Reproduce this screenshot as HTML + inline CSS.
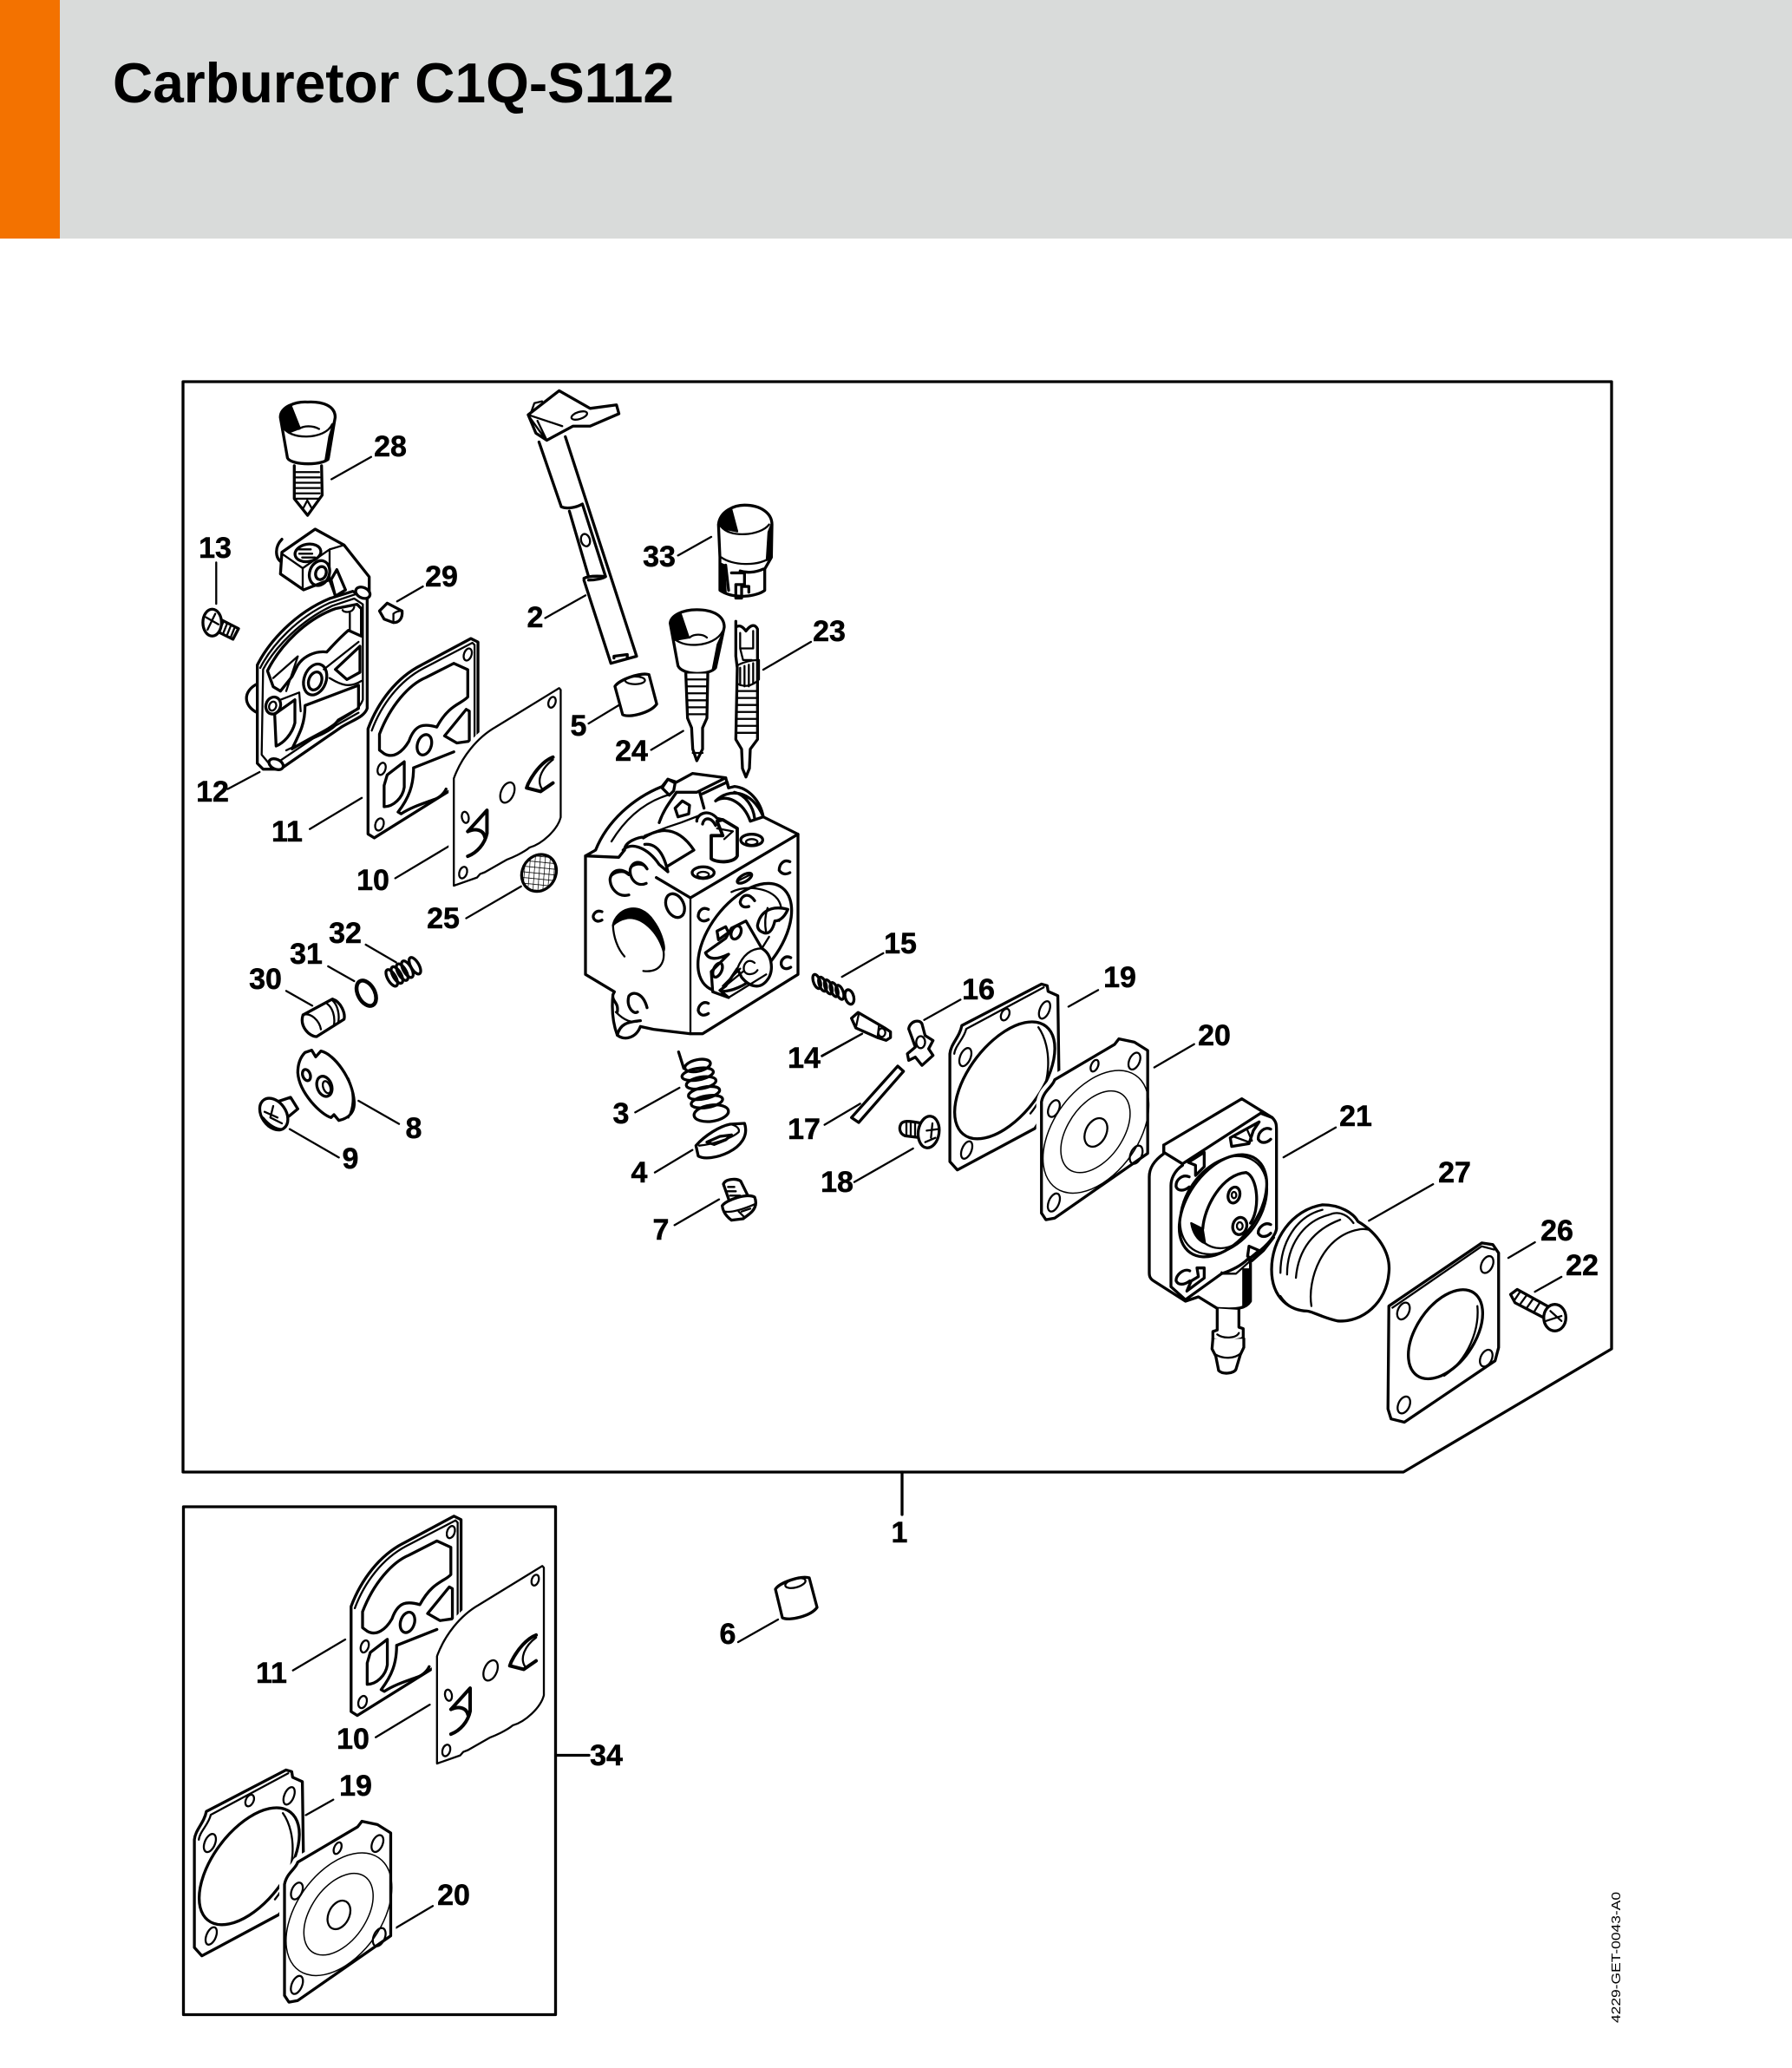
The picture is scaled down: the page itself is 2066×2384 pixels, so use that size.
<!DOCTYPE html>
<html><head><meta charset="utf-8"><title>Carburetor C1Q-S112</title>
<style>
html,body{margin:0;padding:0;background:#fff}
svg{display:block}
svg *{vector-effect:non-scaling-stroke}
.p{fill:none;stroke:#000;stroke-width:2.300;stroke-linejoin:round;stroke-linecap:round}
.t{stroke-width:3.300}
.n{stroke-width:1.500}
.f{fill:#fff}
.b{fill:#000}
.h{fill:#fff;stroke:#fff;stroke-width:12}
.l{font:bold 34px "Liberation Sans",sans-serif;text-anchor:middle;fill:#000;stroke:#000;stroke-width:.5px}
</style></head><body>
<svg width="2066" height="2384" viewBox="0 0 2066 2384" xmlns="http://www.w3.org/2000/svg">
<defs>
<pattern id="hatch" width="16" height="16" patternUnits="userSpaceOnUse" patternTransform="rotate(35)"><path d="M0 0H16M0 0V16" stroke="#000" stroke-width="4" fill="none"/></pattern>
<g id="g11" class="p" transform="translate(200,430) scale(.35714,.40816)">
<path class="f t" d="M628,1005C660,930 720,860 800,825L960,750 983,760V1130L648,1313 628,1302Z"/>
<path d="M640,1010C672,935 730,870 805,835L965,762 972,768V1120"/>
<path class="t" d="M665,1020C700,940 760,880 815,860L905,820 950,838V915C930,935 890,935 850,1000 810,990 780,990 760,1040 740,1070 710,1090 680,1075L665,1065Z"/>
<path class="t" d="M875,1025L945,950 955,955V1040L915,1045Z"/>
<path class="t" d="M690,1135L745,1098V1170C740,1200 710,1225 680,1225V1165Z"/>
<path class="t" d="M775,1115L905,1070M775,1115C775,1165 760,1200 725,1240L735,1245C770,1225 810,1215 840,1205 860,1200 875,1185 880,1175"/>
<ellipse cx="950" cy="795" rx="12" ry="18" transform="rotate(25 950 795)"/>
<ellipse cx="672" cy="1118" rx="12" ry="18" transform="rotate(25 672 1118)"/>
<ellipse cx="665" cy="1275" rx="13" ry="18" transform="rotate(25 665 1275)"/>
<ellipse class="t" cx="810" cy="1050" rx="22" ry="30" transform="rotate(25 810 1050)"/>
</g>
<g id="g10" class="p" transform="translate(200,430) scale(.35714,.40816)">
<path class="h" d="M905,1145C930,1085 980,1030 1040,1000L1245,890 1250,895V1255C1240,1290 1190,1330 1150,1340 1130,1355 1090,1370 1075,1375L1005,1410 990,1415 980,1425 905,1448Z"/>
<path class="f" d="M905,1145C930,1085 980,1030 1040,1000L1245,890 1250,895V1255C1240,1290 1190,1330 1150,1340 1130,1355 1090,1370 1075,1375L1005,1410 990,1415 980,1425 905,1448Z"/>
<ellipse cx="1222" cy="930" rx="11" ry="16" transform="rotate(25 1222 930)"/>
<ellipse cx="935" cy="1411" rx="12" ry="17" transform="rotate(25 935 1411)"/>
<ellipse cx="942" cy="1255" rx="11" ry="16" transform="rotate(-15 942 1255)"/>
<ellipse cx="1078" cy="1185" rx="20" ry="31" transform="rotate(30 1078 1185)"/>
<path style="stroke-width:4" d="M1225,1085C1195,1095 1165,1125 1145,1160L1140,1172 1185,1182 1225,1158"/>
<path d="M1225,1092C1190,1115 1170,1150 1190,1175"/>
<path style="stroke-width:4" d="M950,1295L1012,1235V1300C1005,1330 980,1355 950,1365M950,1295C975,1285 1000,1290 1005,1310"/>
</g>
<g id="g19" class="p" transform="translate(1040,1100) scale(.5102,.38265)">
<path class="f t" d="M108,300C110,270 130,250 135,215L315,90 328,95 330,112 352,125 355,410 300,525 125,650 108,625Z"/>
<path d="M118,300C120,275 140,255 145,225L320,100"/>
<ellipse cx="143" cy="310" rx="12" ry="28" transform="rotate(15 143 310)"/>
<ellipse cx="146" cy="590" rx="11" ry="27" transform="rotate(15 146 590)"/>
<ellipse cx="322" cy="168" rx="11" ry="27" transform="rotate(15 322 168)"/>
<ellipse cx="233" cy="182" rx="9" ry="18" transform="rotate(15 233 182)"/>
<ellipse class="t" cx="232" cy="380" rx="88" ry="190" transform="rotate(25 232 380)"/>
<path d="M308,220C340,280 340,400 290,480"/>
</g>
<g id="g20" class="p" transform="translate(1040,1100) scale(.5102,.38265)">
<path class="h" d="M315,445C320,410 340,400 345,378L480,272 490,255 525,265 555,290V600L345,795 325,800 315,780Z"/>
<path class="f t" d="M315,445C320,410 340,400 345,378L480,272 490,255 525,265 555,290V600L345,795 325,800 315,780Z"/>
<ellipse cx="343" cy="465" rx="12" ry="26" transform="rotate(15 343 465)"/>
<ellipse cx="525" cy="322" rx="12" ry="26" transform="rotate(15 525 322)"/>
<ellipse cx="529" cy="604" rx="13" ry="28" transform="rotate(15 529 604)"/>
<ellipse cx="343" cy="748" rx="12" ry="28" transform="rotate(15 343 748)"/>
<ellipse cx="435" cy="336" rx="8" ry="18" transform="rotate(15 435 336)"/>
<ellipse class="n" cx="438" cy="535" rx="102" ry="195" transform="rotate(22 438 535)"/>
<ellipse class="n" cx="437" cy="535" rx="66" ry="130" transform="rotate(22 437 535)"/>
<ellipse cx="438" cy="537" rx="24" ry="44" transform="rotate(15 438 537)"/>
</g>
</defs>

<!-- header -->
<rect x="0" y="0" width="2066" height="275" fill="#d9dbda"/>
<rect x="0" y="0" width="69" height="275" fill="#f37200"/>
<text x="130" y="118" font-family="Liberation Sans,sans-serif" font-weight="700" font-size="65" textLength="647" lengthAdjust="spacingAndGlyphs" fill="#000">Carburetor C1Q-S112</text>

<!-- frames -->
<path class="p t" d="M211,440H1858V1555L1618,1697H211Z"/>
<path class="p t" d="M1040,1697V1746"/>
<rect class="p t" x="211.500" y="1737" width="429" height="585.500"/>
<path class="p t" d="M641,2023.500H679"/>

<!-- Z1 group -->
<g class="p" transform="translate(200,430) scale(.35714,.40816)">
<path d="M510,300L638,237M138,535V652M722,645L805,603M1200,692L1330,628M175,1175L278,1127M440,1288L608,1200M716,1427L892,1335M945,1540L1122,1450M1340,990L1438,938"/>
<!-- 28 -->
<path class="f t" d="M345,125C345,95 395,80 433,82 480,80 522,92 522,125L500,240C490,262 380,262 368,240Z"/>
<path d="M352,150C370,190 490,190 512,145M405,158C420,148 450,148 470,158"/>
<path class="b" d="M347,125C350,102 365,92 378,90L408,156 372,168 352,150Z"/>
<path class="b" d="M520,132L500,245 490,250 503,180Z"/>
<path class="t f" d="M390,262V355L433,402 480,345 478,262"/>
<path d="M395,280H470M395,295H472M395,310H472M395,325H472M395,340H472M395,355H470M420,380L432,360 445,380"/>
<!-- 13 -->
<path class="t" d="M150,695L210,722 192,752 130,725"/>
<path d="M160,705L150,725M172,710L162,732M184,716L174,738M196,722L186,744"/>
<ellipse class="f t" cx="125" cy="705" rx="30" ry="38"/>
<path d="M105,690L145,710M110,725L135,680"/>
<!-- 2 -->
<path class="f t" d="M1145,118L1245,50 1345,100 1430,90 1438,115 1345,150 1290,150 1205,190 1170,170Z"/>
<path d="M1145,118L1255,150M1155,110L1165,85 1190,80M1175,135L1205,190M1150,125L1195,180"/>
<ellipse cx="1310" cy="120" rx="26" ry="10" transform="rotate(-15 1310 120)"/>
<path class="t" d="M1180,195L1252,378C1270,385 1300,380 1320,370M1265,180L1495,800M1278,390L1340,575M1320,370L1395,575M1325,580C1345,570 1395,575 1395,575 1390,580 1360,585 1340,585M1325,585L1412,820 1495,800M1422,805V800L1465,795V805"/>
<ellipse cx="1330" cy="472" rx="14" ry="18" transform="rotate(-25 1330 472)"/>
<!-- 29 -->
<path class="f t" d="M665,672L690,650 738,672C740,692 730,705 710,705L680,695Z"/>
<path d="M710,680C720,672 735,672 738,672M710,680V700"/>
<!-- 5 -->
<path class="f t" d="M1425,885C1440,865 1510,845 1535,852L1560,935C1540,960 1470,975 1450,965Z"/>
<ellipse cx="1490" cy="868" rx="32" ry="11"/>
<!-- 25 -->
<ellipse cx="1180" cy="1412" rx="58" ry="50" transform="rotate(-30 1180 1412)" fill="url(#hatch)" class="t"/>
</g>

<!-- 12 -->
<g class="p" transform="translate(280,600) scale(.33333)">
<path class="t" d="M135,65C110,90 110,130 135,145"/>
<path class="f t" d="M135,110L250,30 350,85 437,195V260L320,260 300,205 210,240 130,185Z"/>
<path d="M135,115L207,165V235M207,165L300,100 350,85M300,100V205"/>
<ellipse class="t" cx="225" cy="112" rx="45" ry="30" transform="rotate(-10 225 112)"/>
<path d="M190,100H235M195,115H240M205,128H250"/>
<ellipse class="t" cx="265" cy="182" rx="34" ry="44" transform="rotate(20 265 182)"/>
<ellipse class="t" cx="270" cy="182" rx="18" ry="23" transform="rotate(20 270 182)"/>
<path class="f t" d="M305,205L325,170 355,240 320,262Z"/>
<path class="t" d="M50,565C0,590 0,640 50,665"/>
<path class="f t" d="M50,500C90,420 180,320 300,270L380,245 430,270V650C420,680 380,690 340,715L130,860 70,860 50,840Z"/>
<path d="M60,510C100,430 190,335 300,285L390,255"/>
<path d="M70,515C110,440 200,345 310,295L385,270 415,290V620C400,660 360,675 330,695L130,830 90,840 65,810Z"/>
<path class="t" d="M85,520C130,430 220,340 320,305L395,290 410,305V400L365,380C330,410 300,445 290,455 250,450 210,470 190,500L170,540 130,590 105,575Z"/>
<path d="M105,545L190,470 150,590M345,310C350,320 380,320 385,300M370,320V380"/>
<ellipse class="f t" cx="250" cy="550" rx="38" ry="55" transform="rotate(20 250 550)"/>
<ellipse class="t" cx="250" cy="555" rx="22" ry="32" transform="rotate(20 250 555)"/>
<ellipse class="f t" cx="105" cy="640" rx="25" ry="30" transform="rotate(20 105 640)"/>
<ellipse cx="103" cy="642" rx="12" ry="16" transform="rotate(20 103 642)"/>
<path class="t" d="M320,515L405,435V525L360,550Z"/>
<path d="M280,515L400,420M300,545C340,570 370,580 410,555M130,620L195,595 200,660"/>
<path class="t" d="M110,670L180,620V700C170,740 140,770 115,780Z"/>
<path class="t" d="M215,640L400,570V650L330,690C310,720 270,730 170,790 200,730 215,700 215,640Z"/>
<path d="M150,795C220,760 290,740 320,710L400,665"/>
<ellipse class="f t" cx="415" cy="250" rx="26" ry="18" transform="rotate(25 415 250)"/>
<ellipse class="f t" cx="115" cy="843" rx="26" ry="17" transform="rotate(25 115 843)"/>
</g>
<use href="#g11"/>
<use href="#g10"/>

<!-- Z2 group -->
<g class="p" transform="translate(640,560) scale(.33333,.44643)">
<path d="M425,180L540,132M720,475L885,403M332,682L443,633M992,1268L1135,1207M922,1472L1062,1415"/>
<!-- 33 -->
<path class="f t" d="M565,100C570,65 620,50 655,50 710,50 750,70 750,100L748,185 725,215V270C700,285 620,295 570,270V200L570,185Z"/>
<path d="M575,105C600,135 710,130 740,100M575,185C610,205 700,210 745,185"/>
<path class="b" d="M567,100C575,75 595,65 610,62L630,118 580,110Z"/>
<path class="b" d="M748,100L745,185 732,192 738,120Z"/>
<path class="t" d="M590,205L600,270M640,220C660,225 690,225 720,215M610,225H655V255H625V290H645V260H670V275"/>
<path class="b" d="M570,200L585,205 590,275 570,270Z"/>
<!-- 24 -->
<path class="f t" d="M398,355C400,335 440,320 490,320 545,320 585,335 585,365L555,470C535,490 440,490 425,465Z"/>
<path d="M408,390C430,420 550,420 580,375M465,392C480,382 510,382 525,392"/>
<path class="b" d="M398,355C410,340 420,335 435,332L462,392 415,398Z"/>
<path class="b" d="M582,378L555,470 545,475 562,410Z"/>
<path class="f t" d="M452,485L458,600 472,625 476,680 490,710 510,680 510,625 525,600 528,485"/>
<path d="M458,500H525M458,518H525M458,536H525M458,554H525M458,572H525M458,590H525M476,690H510"/>
<!-- 23 -->
<path class="f t" d="M625,350V440L630,470 625,655 645,680 648,730 660,752 672,730 675,680 700,655V370C690,355 675,360 660,375 645,360 635,360 625,365Z"/>
<path d="M640,380V420H685V375M640,420L650,450H680M628,465C650,455 680,450 705,450V500C680,520 650,520 628,510"/>
<path d="M640,470V515M655,465V518M670,462V518M685,458V510"/>
<path d="M630,530H698M630,548H698M630,566H698M630,584H698M630,602H698M630,620H698M630,638H698"/>
<!-- 15 -->
<g class="t">
<ellipse cx="905" cy="1280" rx="11" ry="20" transform="rotate(-30 905 1280)"/>
<ellipse cx="925" cy="1287" rx="11" ry="20" transform="rotate(-30 925 1287)"/>
<ellipse cx="945" cy="1294" rx="11" ry="20" transform="rotate(-30 945 1294)"/>
<ellipse cx="965" cy="1301" rx="11" ry="20" transform="rotate(-30 965 1301)"/>
<ellipse cx="985" cy="1308" rx="11" ry="20" transform="rotate(-30 985 1308)"/>
<ellipse cx="1018" cy="1320" rx="14" ry="20" transform="rotate(-30 1018 1320)"/>
</g>
<!-- 14 -->
<path class="f t" d="M1025,1375L1048,1360 1140,1400 1160,1410 1160,1425 1145,1432 1115,1425 1040,1400Z"/>
<path d="M1040,1400L1050,1365M1120,1395L1115,1425"/>
<ellipse cx="1130" cy="1412" rx="12" ry="11"/>
</g>

<!-- carb body -->
<g class="p" transform="translate(670,880) scale(.33333)">
<path class="f t" d="M15,320V730L115,790 110,800C105,850 110,900 125,940 150,960 190,950 205,910L250,920 375,935 420,935 750,730V245L630,185C620,130 580,85 530,80L510,85 500,50 385,35 330,65 300,55 280,80C180,120 90,200 50,300Z"/>
<path class="t" d="M15,320L130,325 150,300M378,465L750,245M260,395L378,465"/>
<path d="M378,465V930M120,860C150,890 175,900 205,890M105,270C160,180 230,130 305,108"/>
<path class="f t" d="M280,85L300,55 325,68 320,95 305,110Z"/>
<path class="t" d="M330,100H400L500,50M410,100L425,155M420,105L505,65 510,85M325,155L350,130 375,145 372,175 335,185ZM270,205C285,160 310,130 330,100"/>
<path d="M220,250L300,220 345,205 410,180"/>
<path class="t" d="M145,300C170,270 230,290 270,350L300,375M220,280C270,275 290,330 300,375M215,258C280,215 340,225 390,300L300,355M150,300C150,270 200,255 215,255"/>
<path class="t" d="M465,130C510,85 590,90 630,185M530,100C570,110 595,150 600,190M465,130C500,105 560,130 585,200L630,185"/>
<path class="t" d="M400,200C400,175 440,155 470,190L490,195M420,210C425,185 450,185 465,215"/>
<path class="f" style="stroke-width:3.800" d="M450,250V330C470,345 530,345 540,320V225L490,195 470,200 490,250Z"/>
<path d="M470,225L525,235 495,262"/>
<ellipse class="t" cx="590" cy="265" rx="38" ry="20"/>
<ellipse cx="590" cy="272" rx="20" ry="10"/>
<ellipse class="t" cx="422" cy="378" rx="38" ry="20"/>
<ellipse cx="422" cy="385" rx="20" ry="10"/>
<ellipse class="t" cx="565" cy="397" rx="28" ry="12" transform="rotate(-30 565 397)"/>
<path d="M545,405L585,385"/>
<!-- left face holes -->
<path class="t" d="M165,455C125,465 100,430 100,400 105,370 135,360 165,385"/>
<path class="b" d="M100,395C108,368 135,358 165,380 140,372 115,375 100,395Z"/>
<path class="t" d="M225,415C190,430 165,395 170,365 180,335 210,335 228,365"/>
<path class="b" d="M170,362C180,336 205,335 225,358 205,345 185,348 170,362Z"/>
<ellipse class="t" cx="325" cy="492" rx="30" ry="43" transform="rotate(-25 325 492)"/>
<path class="t" d="M72,513C50,505 40,525 42,532 45,545 60,550 72,542"/>
<path class="b" d="M110,560C120,505 200,470 250,545 280,585 292,640 285,650 265,580 210,530 160,535 135,540 120,550 110,560Z"/>
<path d="M110,560C112,600 125,640 150,668M285,650C290,690 270,725 215,718"/>
<path class="t" d="M228,845C215,795 180,785 165,805 155,840 180,870 195,860"/>
<path class="t" d="M110,810C112,825 130,830 125,860M125,940C135,900 160,895 205,890"/>
<!-- right face -->
<path class="t" d="M722,340C700,330 685,350 685,370 695,385 710,385 722,378"/>
<path class="t" d="M440,505C420,495 405,510 405,530 410,545 425,550 440,540"/>
<path class="t" d="M725,672C705,662 690,680 692,695 695,710 710,715 725,705"/>
<path class="t" d="M440,830C420,820 405,840 405,855 410,872 425,875 440,865"/>
<ellipse class="t" cx="566" cy="602" rx="122" ry="215" transform="rotate(37 566 602)"/>
<path d="M520,445C570,420 650,430 680,470 700,500 690,520 685,545"/>
<path class="t" d="M600,475C580,445 555,455 550,480 552,495 565,500 580,495"/>
<path class="f t" d="M610,560C620,510 660,490 715,505 700,540 680,545 670,545 660,590 640,590 630,585 615,580 610,570 610,560Z"/>
<path d="M645,500C635,530 635,560 640,585"/>
<path class="f t" d="M430,655L500,605 520,570 570,545 625,640C660,660 665,710 650,740 620,790 580,770 555,740L540,710 500,770 480,785 510,810 455,790 450,720 510,660C470,680 440,680 430,655Z"/>
<path class="t" d="M470,580L500,565 510,585 475,610Z"/>
<ellipse class="t" cx="536" cy="585" rx="16" ry="24" transform="rotate(25 536 585)"/>
<path d="M570,545L625,640 650,600M600,690C575,670 555,700 565,720 575,735 600,730 610,715M540,710C560,660 590,640 625,640"/>
<ellipse class="t" cx="472" cy="715" rx="14" ry="26" transform="rotate(25 472 715)"/>
<path d="M510,810L640,730M480,785L560,720M490,770L550,710"/>
</g>

<!-- Z3 group -->
<g class="p" transform="translate(1040,1100) scale(.5102,.38265)">
<path d="M50,198L132,137M376,158L443,108M570,341L660,271M862,612L980,522M1055,803L1200,693M1370,915L1430,868M1430,1017L1490,972"/>
<path class="f t" d="M15,225C18,200 40,195 45,210L52,245 70,260 60,285 70,305 45,335 30,310 15,320 12,300 30,280 22,250Z"/>
<ellipse cx="42" cy="265" rx="10" ry="18"/>
</g>
<use href="#g19"/>
<use href="#g20"/>

<!-- 21 -->
<g class="p" transform="translate(1310,1260) scale(.33333)">
<path class="f t" d="M95,180L365,20 470,85C485,100 485,110 485,130V470C480,500 440,540 395,570V720C380,745 350,750 280,745L215,705 170,720 60,650C45,640 45,630 45,620V290C45,260 60,235 95,210Z"/>
<path class="t" d="M95,180V205L160,245 430,70 470,85"/>
<path class="t" d="M160,250C130,270 120,300 120,320V670L170,715 295,625C340,610 370,590 385,575L400,580 440,545 475,500"/>
<path class="t" d="M180,240L235,205V255L205,285V250ZM325,155L425,100 405,130 390,175 330,185Z"/>
<path d="M335,150L390,170M385,130L400,165"/>
<path class="t" d="M183,290C160,280 135,300 138,325 145,340 165,340 183,325M465,125C445,115 420,135 422,160 430,175 450,175 465,160M465,455C445,445 420,465 422,485 430,500 450,500 465,485M185,615C165,605 135,630 138,650 145,665 165,665 185,650"/>
<ellipse class="t" cx="300" cy="390" rx="122" ry="198" transform="rotate(35 300 390)"/>
<ellipse cx="302" cy="388" rx="130" ry="186" transform="rotate(35 302 388)"/>
<path class="t" d="M230,470C235,390 300,280 380,275 420,290 430,400 395,450"/>
<path class="b" d="M190,450L230,470 238,520C210,510 195,480 190,450Z"/>
<path d="M238,520C265,540 310,545 345,520"/>
<ellipse class="t" cx="338" cy="353" rx="20" ry="28" transform="rotate(15 338 353)"/>
<ellipse cx="338" cy="353" rx="8" ry="11"/>
<ellipse class="t" cx="358" cy="460" rx="24" ry="30" transform="rotate(15 358 460)"/>
<ellipse cx="358" cy="460" rx="10" ry="13"/>
<path class="t" d="M210,605H235V640L175,685 190,650 215,635Z"/>
<path class="t" d="M390,530L425,545 395,570 385,565Z"/>
<path class="b" d="M370,610H392V715L370,735Z"/>
<path d="M295,620L300,625H345L395,580"/>
<path class="f t" d="M280,745V820L265,825V850C270,860 360,860 370,845V815L355,810V750"/>
<path class="f t" d="M265,850L262,885 275,910 285,960C300,975 340,970 345,955L360,905 372,880V850"/>
<path d="M275,905C300,920 340,920 362,900M280,835C300,850 345,850 355,830"/>
</g>

<!-- Z3 remaining -->
<g class="p" transform="translate(1040,1100) scale(.5102,.38265)">
<!-- 27 -->
<path class="f t" d="M835,950C835,860 880,770 950,755 990,755 1020,780 1030,805 1075,840 1105,900 1100,960 1095,1050 1040,1110 985,1105 950,1095 925,1075 915,1075 880,1075 835,1040 835,950Z"/>
<path d="M855,960C855,870 890,790 950,770M870,965C870,880 905,805 965,785 990,770 1010,790 1020,810M890,975C895,890 930,830 990,800M925,1060C915,980 950,850 1030,830 1045,825 1050,830 1055,830M855,1030C870,1060 890,1075 915,1075"/>
<!-- 26 -->
<path class="f t" d="M1100,1060L1310,870 1335,875 1348,900V1185L1340,1225 1135,1410 1105,1400 1098,1370Z"/>
<path d="M1108,1065L1310,880 1338,890"/>
<ellipse cx="1133" cy="1075" rx="13" ry="26" transform="rotate(15 1133 1075)"/>
<ellipse cx="1134" cy="1358" rx="13" ry="26" transform="rotate(15 1134 1358)"/>
<ellipse cx="1322" cy="935" rx="13" ry="26" transform="rotate(15 1322 935)"/>
<ellipse cx="1320" cy="1217" rx="13" ry="26" transform="rotate(15 1320 1217)"/>
<ellipse class="t" cx="1228" cy="1145" rx="70" ry="142" transform="rotate(22 1228 1145)"/>
<path d="M1300,1060C1305,1130 1280,1220 1225,1270"/>
<!-- 22 -->
<path class="f t" d="M1375,1025L1390,1010 1465,1065 1450,1095 1385,1050Z"/>
<path d="M1395,1020L1385,1040M1410,1030L1398,1052M1425,1040L1412,1065M1440,1052L1428,1078"/>
<ellipse class="f t" cx="1475" cy="1095" rx="25" ry="40"/>
<path d="M1465,1075L1490,1105M1455,1105L1490,1090"/>
</g>

<!-- Z5 group -->
<g class="p" transform="translate(270,1040) scale(.33333)">
<path d="M455,147L560,208M325,222L415,273M180,307L270,358M430,687L570,767M192,785L362,883"/>
<g class="t">
<ellipse cx="545" cy="262" rx="14" ry="32" transform="rotate(-30 545 262)"/>
<ellipse cx="563" cy="252" rx="14" ry="32" transform="rotate(-30 563 252)"/>
<ellipse cx="581" cy="242" rx="14" ry="32" transform="rotate(-30 581 242)"/>
<ellipse cx="599" cy="232" rx="14" ry="32" transform="rotate(-30 599 232)"/>
<ellipse cx="625" cy="220" rx="14" ry="32" transform="rotate(-30 625 220)"/>
</g>
<ellipse cx="457" cy="315" rx="29" ry="47" transform="rotate(-28 457 315)" style="stroke-width:4.500"/>
<path class="f t" d="M238,390L340,335C370,345 385,385 380,405L285,465C260,465 225,430 238,390Z"/>
<path d="M238,390C265,380 295,410 300,440M340,340C358,355 365,390 360,415M322,352C340,365 350,395 345,425"/>
<path class="f t" d="M245,520L268,512 282,535 300,515C345,525 410,610 415,690 418,735 385,750 362,755L345,735 335,745C300,735 225,660 220,590 220,555 230,535 245,520Z"/>
<path d="M395,610C412,650 418,700 395,745"/>
<ellipse cx="250" cy="598" rx="13" ry="20" transform="rotate(-20 250 598)" class="t"/>
<ellipse cx="312" cy="637" rx="25" ry="36" transform="rotate(-20 312 637)" class="t"/>
<ellipse cx="320" cy="640" rx="12" ry="22" transform="rotate(-20 320 640)"/>
<path class="f t" d="M150,690L195,675 220,715 190,740 165,750Z"/>
<ellipse class="f t" cx="137" cy="733" rx="42" ry="60" transform="rotate(-35 137 733)"/>
<path d="M105,725L150,745M135,705L125,745 165,765M100,745C120,770 145,785 165,785"/>
</g>

<!-- Z7 group -->
<g class="p" transform="translate(680,1180) scale(.33333)">
<path d="M157,307L310,222M225,515L355,437M293,697L447,608M812,350L935,277M915,548L1118,432M803,113L940,36"/>
<path style="stroke-width:3.300" d="M307,98L325,155"/>
<g style="stroke-width:3.300">
<ellipse cx="373" cy="145" rx="45" ry="20" transform="rotate(-12 373 145)"/>
<ellipse cx="373" cy="175" rx="55" ry="20" transform="rotate(-10 373 175)"/>
<ellipse cx="385" cy="205" rx="52" ry="20" transform="rotate(-10 385 205)"/>
<ellipse cx="395" cy="240" rx="55" ry="20" transform="rotate(-12 395 240)"/>
<ellipse cx="405" cy="270" rx="55" ry="20" transform="rotate(-10 405 270)"/>
<ellipse cx="420" cy="310" rx="60" ry="28" transform="rotate(-8 420 310)"/>
</g>
<path class="f t" d="M367,422C400,385 450,355 485,348L535,345C550,390 520,425 480,445 440,465 395,470 375,458Z"/>
<path d="M378,422C410,420 490,400 515,375 520,360 500,350 485,348"/>
<path class="t" d="M405,410L450,390 490,385 470,402 430,418Z"/>
<!-- 7 -->
<path class="f t" d="M483,615L462,555C470,535 510,535 522,545L548,598"/>
<path d="M475,580H505M478,565H500M485,595H520"/>
<path class="f t" d="M458,630C470,610 545,585 570,600 580,625 570,645 550,660L530,675 490,680C470,665 460,650 458,630Z"/>
<path d="M465,650C490,655 535,640 570,625M515,650L535,670M525,650L555,640"/>
<!-- 17 -->
<path class="f t" d="M1065,147L1085,165 930,342 905,325Z"/>
<!-- 18 -->
<path class="f t" d="M1075,350C1080,335 1100,335 1150,345L1145,395 1090,388C1070,380 1070,360 1075,350Z"/>
<path d="M1095,345V385M1110,345V388M1125,345V390"/>
<ellipse class="f t" cx="1172" cy="375" rx="36" ry="55" transform="rotate(8 1172 375)"/>
<path d="M1165,370L1205,365M1185,345L1180,395M1160,410L1195,395"/>
</g>

<!-- Z4 leaders -->
<g class="p" transform="translate(200,1720) scale(.34439,.39541)">
<path d="M400,520L575,430M677,715L858,620M443,942L535,897M742,1272L868,1207"/>
</g>
<use href="#g11" transform="translate(-19.500,1011.700)"/>
<use href="#g10" transform="translate(-19.400,1012)"/>
<use href="#g19" transform="translate(-871,906)"/>
<use href="#g20" transform="translate(-872.700,902)"/>

<!-- 6 -->
<path class="p" d="M851,1893L897,1867"/>
<g class="p" transform="translate(185,1049)"><path class="f t" d="M709,783C714,775 739,767 748,770L757,804C750,814 725,820 717,816Z"/><ellipse cx="732" cy="776" rx="12" ry="5" transform="rotate(-15 732 776)"/></g>

<!-- labels -->
<g>
<text class="l" x="450" y="526">28</text><text class="l" x="248" y="643">13</text><text class="l" x="509" y="676">29</text><text class="l" x="617" y="723">2</text><text class="l" x="760" y="653">33</text><text class="l" x="956" y="739">23</text><text class="l" x="667" y="848">5</text><text class="l" x="728" y="877">24</text><text class="l" x="245" y="924">12</text><text class="l" x="331" y="970">11</text><text class="l" x="430" y="1026">10</text><text class="l" x="511" y="1070">25</text><text class="l" x="398" y="1087">32</text><text class="l" x="353" y="1111">31</text><text class="l" x="306" y="1140">30</text><text class="l" x="1038" y="1099">15</text><text class="l" x="1128" y="1152">16</text><text class="l" x="1291" y="1138">19</text><text class="l" x="927" y="1231">14</text><text class="l" x="1400" y="1205">20</text><text class="l" x="716" y="1295">3</text><text class="l" x="477" y="1312">8</text><text class="l" x="404" y="1347">9</text><text class="l" x="927" y="1313">17</text><text class="l" x="1563" y="1298">21</text><text class="l" x="737" y="1363">4</text><text class="l" x="965" y="1374">18</text><text class="l" x="1677" y="1363">27</text><text class="l" x="762" y="1429">7</text><text class="l" x="1795" y="1430">26</text><text class="l" x="1824" y="1470">22</text><text class="l" x="1037" y="1778">1</text><text class="l" x="839" y="1895">6</text><text class="l" x="313" y="1940">11</text><text class="l" x="407" y="2016">10</text><text class="l" x="699" y="2035">34</text><text class="l" x="410" y="2070">19</text><text class="l" x="523" y="2196">20</text>
</g>
<text transform="translate(1868,2332) rotate(-90)" font-family="Liberation Sans,sans-serif" font-size="15" textLength="151" lengthAdjust="spacingAndGlyphs" fill="#000">4229-GET-0043-A0</text>
</svg>
</body></html>
